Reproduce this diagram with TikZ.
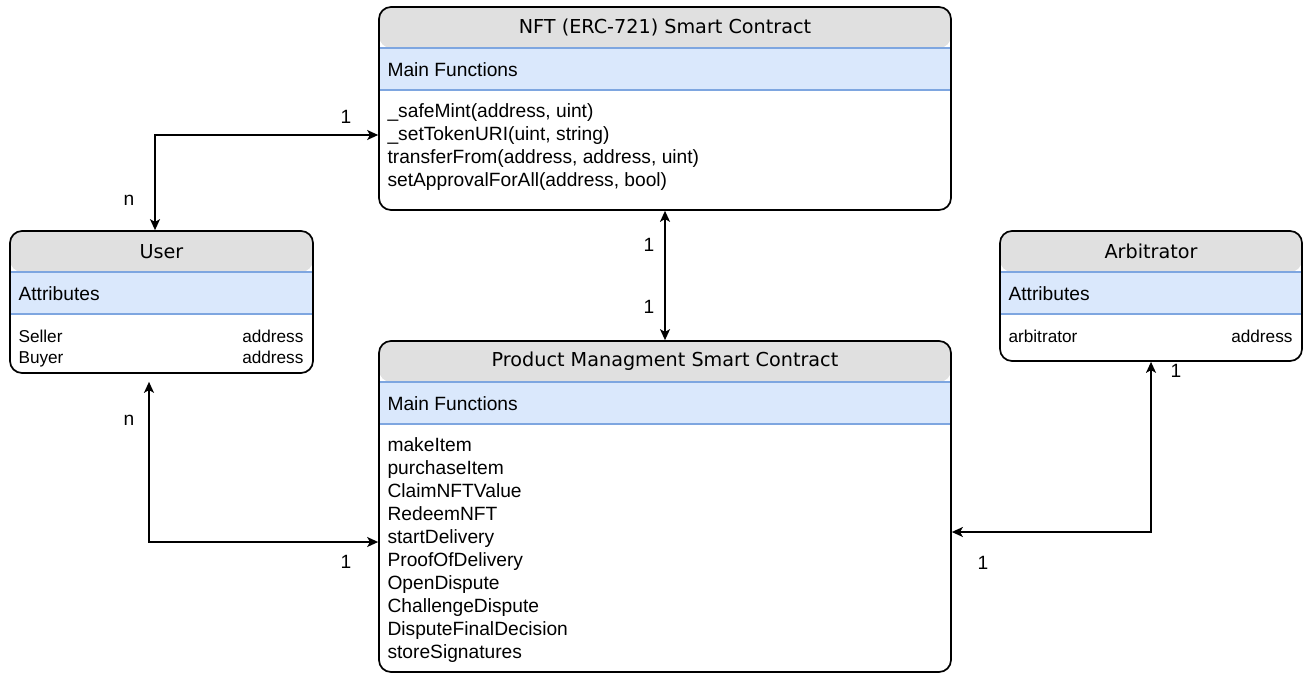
\documentclass[tikz,border=0pt]{standalone}
\usepackage{fontspec}
\setmainfont{Liberation Sans}
\newfontfamily\titlefont{DejaVu Sans}
\usepackage{tikz}
\usetikzlibrary{arrows.meta,positioning}
\definecolor{headgray}{HTML}{E0E0E0}
\definecolor{bandblue}{HTML}{DAE8FC}
\definecolor{bandline}{HTML}{7EA6E0}

\begin{document}
\begin{tikzpicture}[x=0.5pt,y=-0.5pt,
  font=\fontsize{9.6}{11.5}\selectfont,
  cls/.style={draw=black,line width=0.85pt,rounded corners=6pt,inner sep=0pt,
    path picture={
      \fill[headgray] (path picture bounding box.north west) rectangle ([yshift=-20.5pt]path picture bounding box.north east);
      \filldraw[fill=bandblue,draw=bandline,line width=0.7pt,sharp corners] ([yshift=-20.5pt]path picture bounding box.north west) rectangle ([yshift=-41.5pt]path picture bounding box.north east);
    }},
  ttl/.style={font=\titlefont\fontsize{9.6}{11.5}\selectfont,inner sep=0pt},
  sec/.style={anchor=west,inner sep=0pt},
  lst/.style={anchor=north west,align=left,inner sep=0pt},
  typ/.style={anchor=north east,align=right,inner sep=0pt},
  card/.style={inner sep=0pt},
  rel/.style={{Stealth[length=5.5pt,width=5pt,inset=1.4pt]}-{Stealth[length=5.5pt,width=5pt,inset=1.4pt]},line width=0.8pt}]
  \useasboundingbox (0,0) rectangle (1304,674);

  % classes
  \node[cls,minimum width=286pt,minimum height=101.5pt] (nft) at (665,108.5) {};
  \node[cls,minimum width=151.5pt,minimum height=71pt] (usr) at (161.5,302) {};
  \node[cls,minimum width=151pt,minimum height=65pt] (arb) at (1151,296) {};
  \node[cls,minimum width=286pt,minimum height=165.5pt] (prod) at (665,506.5) {};

  \node[ttl] (nftT) at ([yshift=-10.5pt]nft.north) {NFT (ERC-721) Smart Contract};
  \node[sec] (nftS) at ([xshift=4.5pt,yshift=-31.5pt]nft.north west) {Main Functions};
  \node[lst] (nftL) at ([xshift=4.5pt,yshift=-48.5pt]nft.north west)
    {\_safeMint(address, uint)\\\_setTokenURI(uint, string)\\transferFrom(address, address, uint)\\setApprovalForAll(address, bool)};

  \node[ttl] (usrT) at ([yshift=-10.5pt]usr.north) {User};
  \node[sec] (usrS) at ([xshift=4.5pt,yshift=-31.5pt]usr.north west) {Attributes};
  \node[lst,font=\fontsize{8.6}{10.5}\selectfont] (usrL) at ([xshift=4.5pt,yshift=-49.5pt]usr.north west) {Seller\\Buyer};
  \node[typ,font=\fontsize{8.6}{10.5}\selectfont] (usrR) at ([xshift=-5pt,yshift=-49.5pt]usr.north east) {address\\address};

  \node[ttl] (arbT) at ([yshift=-10.5pt]arb.north) {Arbitrator};
  \node[sec] (arbS) at ([xshift=4.5pt,yshift=-31.5pt]arb.north west) {Attributes};
  \node[lst,font=\fontsize{8.6}{10.5}\selectfont] (arbL) at ([xshift=4.5pt,yshift=-49.5pt]arb.north west) {arbitrator};
  \node[typ,font=\fontsize{8.6}{10.5}\selectfont] (arbR) at ([xshift=-5pt,yshift=-49.5pt]arb.north east) {address};

  \node[ttl] (prodT) at ([yshift=-10.5pt]prod.north) {Product Managment Smart Contract};
  \node[sec] (prodS) at ([xshift=4.5pt,yshift=-31.5pt]prod.north west) {Main Functions};
  \node[lst] (prodL) at ([xshift=4.5pt,yshift=-48.5pt]prod.north west)
    {makeItem\\purchaseItem\\ClaimNFTValue\\RedeemNFT\\startDelivery\\ProofOfDelivery\\OpenDispute\\ChallengeDispute\\DisputeFinalDecision\\storeSignatures};

  % relations
  \draw[rel] ([xshift=-3.25pt]usr.north) |- ([yshift=-13.25pt]nft.west);
  \draw[rel] (nft.south) -- (prod.north);
  \draw[rel,shorten <=4pt] ([xshift=-6.25pt]usr.south) |- ([yshift=-17.75pt]prod.west);
  \draw[rel] ([yshift=-12.75pt]prod.east) -| (arb.south);

  % multiplicities
  \node[card] (c1) at (346,117) {1};
  \node[card] (c2) at (129,200) {n};
  \node[card] (c3) at (649,245) {1};
  \node[card] (c4) at (649,307) {1};
  \node[card] (c5) at (129,420) {n};
  \node[card] (c6) at (346,562) {1};
  \node[card] (c7) at (1176,371) {1};
  \node[card] (c8) at (983,563) {1};
\end{tikzpicture}
\end{document}
